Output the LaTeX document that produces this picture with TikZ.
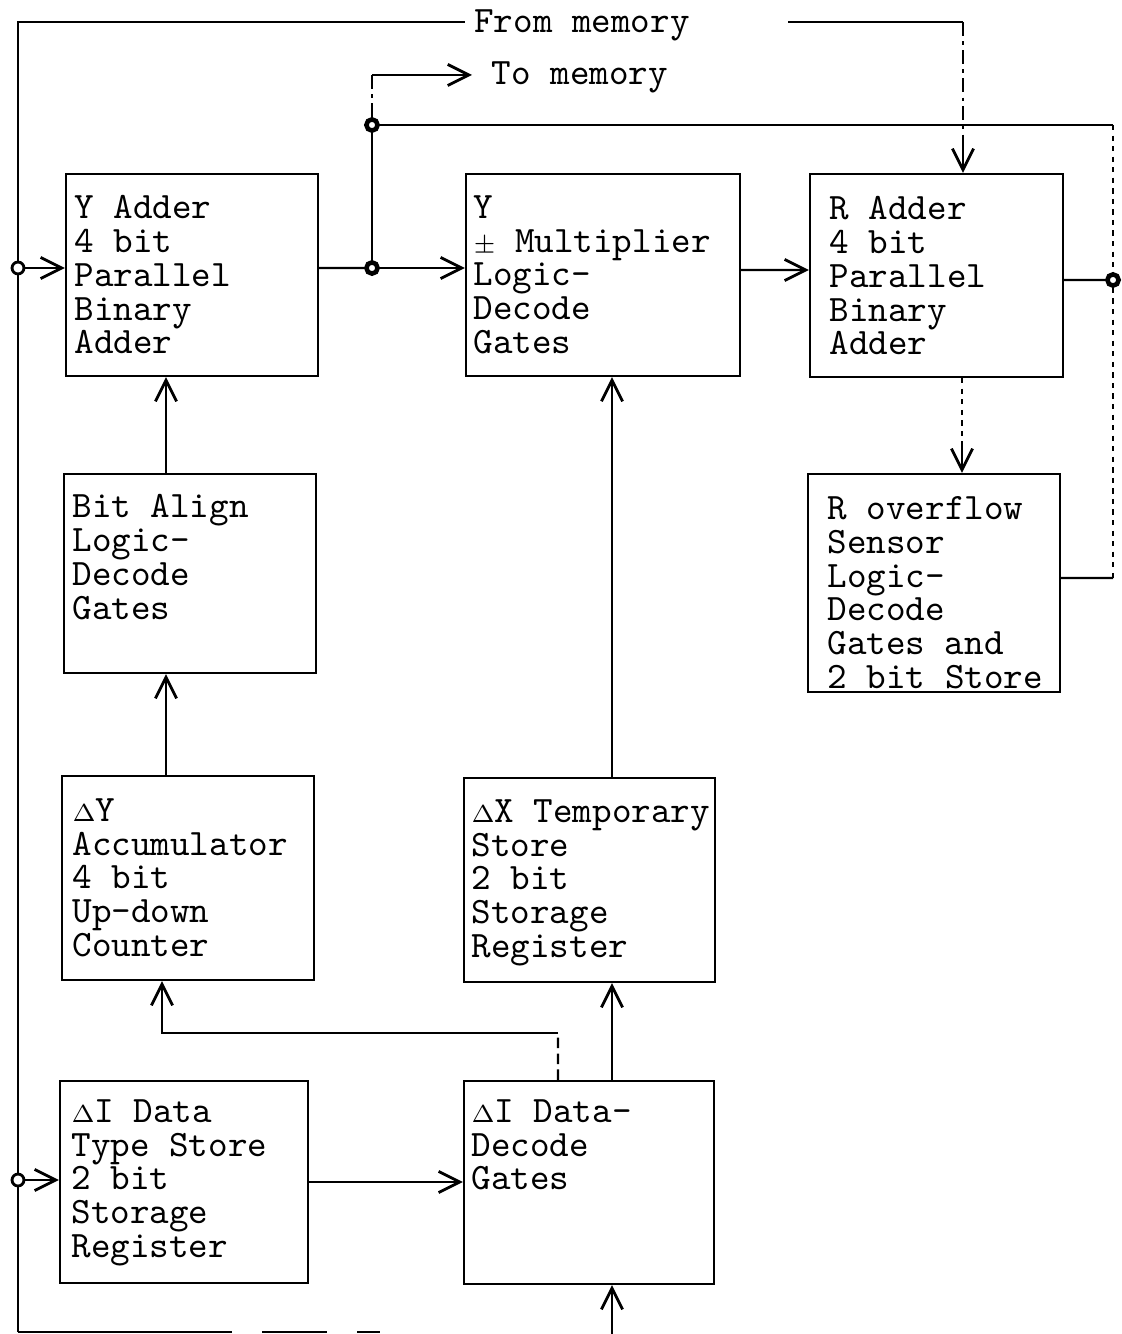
\documentclass[tikz,border=0pt]{standalone}
\usetikzlibrary{calc}
\usetikzlibrary{arrows.meta}

\newcommand{\dlt}{$\scriptstyle\Delta$}

\begin{document}
\begin{tikzpicture}[
		x=0.01cm, y=-0.01cm,
		blk/.style = {rectangle, draw, line width=0.6pt, inner sep=0},
		lbl/.style = {anchor=north west, inner sep=0, align=left, font=\ttfamily\fontsize{10.6}{9.6}\selectfont},
		txt/.style = {inner sep=0, font=\ttfamily\fontsize{10.6}{9.6}\selectfont},
		w/.style = {line width=0.7pt},
		r/.style = {w, -{Straight Barb[length=6pt, width=6pt, line width=0.8pt]}},
		dotln/.style = {w, dash pattern=on 1.5pt off 1.5pt},
		dsh/.style = {w, dash pattern=on 4pt off 1.5pt on 1pt off 1.5pt},
		j/.style = {circle, draw, fill=white, line width=1.3pt, inner sep=0, minimum size=3.2pt},
		jo/.style = {circle, draw, fill=white, line width=0.8pt, inner sep=0, minimum size=3.4pt},
		]
		\useasboundingbox (0,0) rectangle (1121,1334);
		
		% === === Boxes === ===
		\node[blk, minimum width=2.52cm, minimum height=2.02cm]	(yadd)		at	(192,275)		{};
		\node[blk, minimum width=2.74cm, minimum height=2.02cm]	(ymul)		at	(603,275)		{};
		\node[blk, minimum width=2.53cm, minimum height=2.03cm]	(radd)		at	(936.5,275.5)	{};
		\node[blk, minimum width=2.52cm, minimum height=1.99cm]	(align)		at	(190,573.5)		{};
		\node[blk, minimum width=2.52cm, minimum height=2.18cm]	(rovf)		at	(934,583)		{};
		\node[blk, minimum width=2.52cm, minimum height=2.04cm]	(dyacc)		at	(188,878)		{};
		\node[blk, minimum width=2.51cm, minimum height=2.04cm]	(dxtmp)		at	(589.5,880)		{};
		\node[blk, minimum width=2.48cm, minimum height=2.02cm]	(ditype)	at	(184,1182)		{};
		\node[blk, minimum width=2.50cm, minimum height=2.03cm]	(didec)		at	(589,1182.5)	{};
		
		% === === Labels === ===
		\node[lbl]	(yaddT)		at	([shift={(9,22)}]yadd.north west)		{Y Adder\\4 bit\\Parallel\\Binary\\Adder};
		\node[lbl]	(ymulT)		at	([shift={(8,22)}]ymul.north west)		{Y\\$\scriptstyle\pm$ Multiplier\\Logic-\\Decode\\Gates};
		\node[lbl]	(raddT)		at	([shift={(20,23)}]radd.north west)		{R Adder\\4 bit\\Parallel\\Binary\\Adder};
		\node[lbl]	(alignT)	at	([shift={(9,21)}]align.north west)		{Bit Align\\Logic-\\Decode\\Gates};
		\node[lbl]	(rovfT)		at	([shift={(20,23)}]rovf.north west)		{R overflow\\Sensor\\Logic-\\Decode\\Gates and\\2 bit Store};
		\node[lbl]	(dyaccT)	at	([shift={(11,23)}]dyacc.north west)		{\dlt Y\\Accumulator\\4 bit\\Up-down\\Counter};
		\node[lbl]	(dxtmpT)	at	([shift={(8,22)}]dxtmp.north west)		{\dlt X Temporary\\Store\\2 bit\\Storage\\Register};
		\node[lbl]	(ditypeT)	at	([shift={(12,19)}]ditype.north west)	{\dlt I Data\\Type Store\\2 bit\\Storage\\Register};
		\node[lbl]	(didecT)	at	([shift={(8,19)}]didec.north west)		{\dlt I Data-\\Decode\\Gates};
		
		\node[txt]	(frommem)	at	(582,25)	{From memory};
		\node[txt]	(tomem)		at	(580,77)	{To memory};
		
		% === === Points === ===
		\coordinate	(topl)	at	(18,22);
		\coordinate	(botl)	at	(18,1332);
		\coordinate	(bot1)	at	(232,1332);
		\coordinate	(bot2)	at	(262,1332);
		\coordinate	(bot3)	at	(380,1332);
		\coordinate	(fmL)	at	(465,22);
		\coordinate	(fmR)	at	(788,22);
		\coordinate	(fmC)	at	(963,22);
		\coordinate	(fmS)	at	(963,140);
		\coordinate	(tomc)	at	(372,75);
		\coordinate	(tom)	at	(472,75);
		\coordinate	(cr1)	at	(1113,125);
		\coordinate	(cr2)	at	(1113,578);
		\coordinate	(tap)	at	(558,1033);
		\coordinate	(bin)	at	(612,1334);
		\coordinate	(ovS)	at	(962,442);
		
		% === === Lines === ===
		\draw[w]	(botl)	--	(topl)	--	(fmL);
		\draw[w]	(botl)	--	(bot1);
		\draw[w, dash pattern=on 0.65cm off 0.3cm]	(bot2)	--	(bot3);
		\draw[w]	(fmR)	--	(fmC);
		\draw[dsh]	(fmC)	--	(fmS);
		\draw[r]	(fmS)	--	(fmS |- radd.north);
		
		\node[jo]	(jin)	at	(18,268)	{};
		\node[jo]	(jdi)	at	(18,1180)	{};
		\node[j]	(jy)	at	(372,268)	{};
		\node[j]	(jt)	at	(372,125)	{};
		\node[j]	(jr)	at	(1113,280)	{};
		
		\draw[r]	(jin)	--	(jin -| yadd.west);
		\draw[w]	([yshift=.07cm]yadd.east)	--	(jy);
		\draw[r]	(jy)	--	(jy -| ymul.west);
		\draw[w]	(jy)	--	(jt);
		\draw[dsh]	(jt)	--	(tomc);
		\draw[r]	(tomc)	--	(tom);
		\draw[w]	(jt)	--	(cr1);
		\draw[dotln]	(cr1)	--	(jr)	--	(cr2);
		\draw[r]	([yshift=.05cm]ymul.east)	--	([yshift=.055cm]radd.west);
		\draw[w]	([yshift=-.045cm]radd.east)	--	(jr);
		\draw[w]	([yshift=.05cm]rovf.east)	--	(cr2);
		\draw[dotln]	(ovS |- radd.south)	--	(ovS);
		\draw[r]	(ovS)	--	(ovS |- rovf.north);
		
		\draw[r]	([xshift=-.24cm]align.north)	--	([xshift=-.24cm]align.north |- yadd.south);
		\draw[r]	([xshift=-.22cm]dyacc.north)	--	([xshift=-.22cm]dyacc.north |- align.south);
		\draw[r]	([xshift=.225cm]dxtmp.north)	--	([xshift=.225cm]dxtmp.north |- ymul.south);
		\draw[r]	([xshift=.23cm]didec.north)		--	([xshift=.23cm]didec.north |- dxtmp.south);
		\draw[w, dash pattern=on 3pt off 1.5pt]	([xshift=-.31cm]didec.north)	--	(tap);
		\draw[r]	(tap)	-|	([xshift=-.26cm]dyacc.south);
		\draw[r]	(ditype.east)	--	(ditype.east -| didec.west);
		\draw[r]	(jdi)	--	(jdi -| ditype.west);
		\draw[r]	(bin)	--	(bin |- didec.south);
		
\end{tikzpicture}
\end{document}
